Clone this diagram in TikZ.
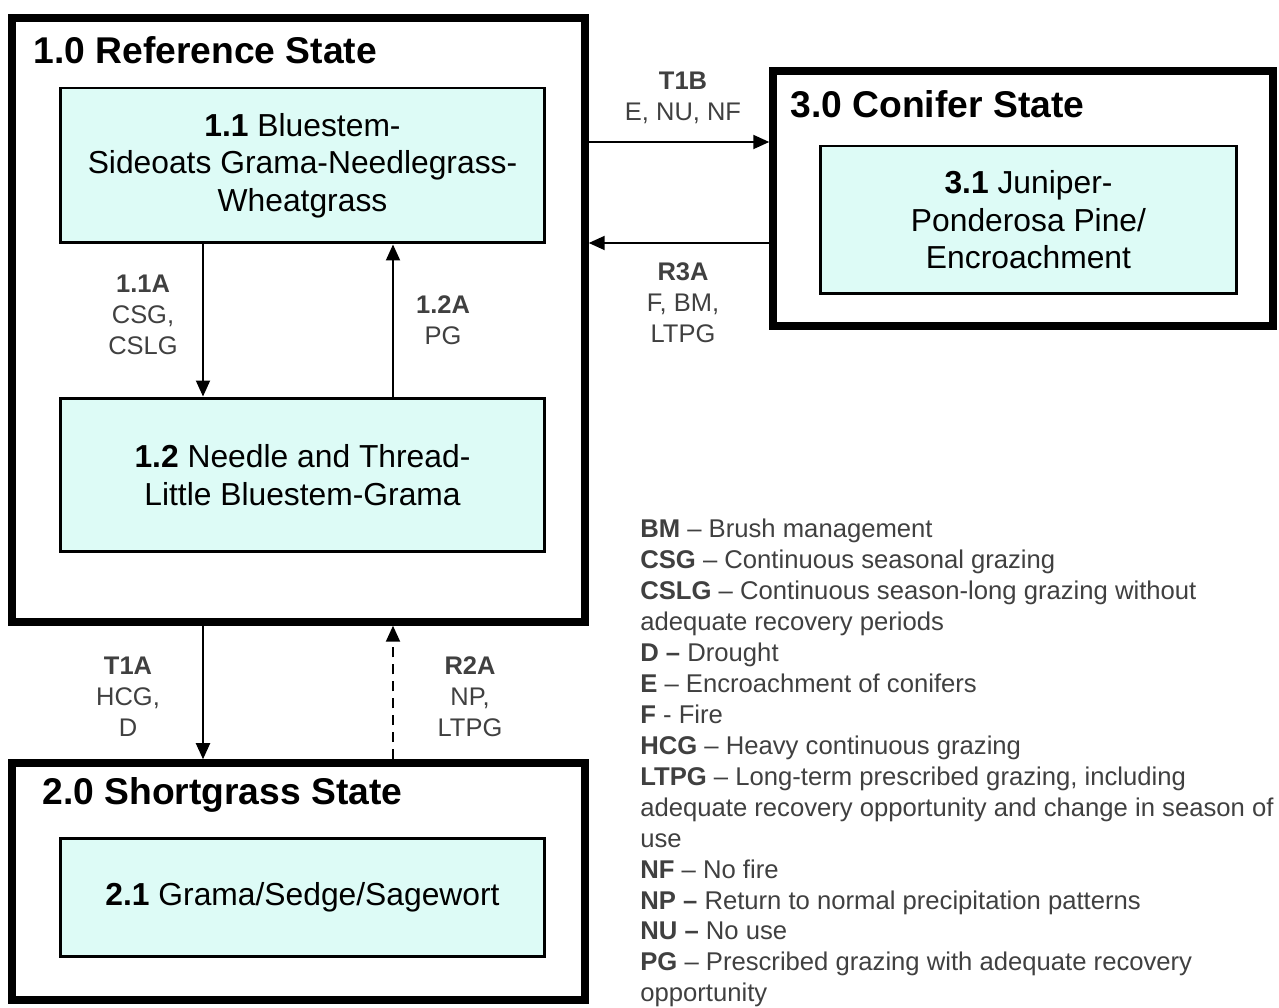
\documentclass[tikz,border=0pt]{standalone}
\usepackage{fontspec}
\setmainfont{Liberation Sans}
\usetikzlibrary{positioning, arrows.meta}

\definecolor{boxfill}{RGB}{221,251,246}
\colorlet{labeltext}{black!75}

\tikzset{
  statebox/.style={draw=black, line width=4.3pt, inner sep=0pt},
  statetitle/.style={anchor=west, inner sep=0pt, font=\bfseries\fontsize{21.2}{25}\selectfont},
  phasebox/.style={draw=black, line width=1.7pt, fill=boxfill, align=center, font=\fontsize{18.1}{21.3}\selectfont},
  flow/.style={-{Triangle[length=0.32cm, width=0.28cm]}, line width=1.1pt},
  translabel/.style={align=center, text=labeltext, font=\fontsize{14.5}{17.6}\selectfont},
}

\begin{document}
\begin{tikzpicture}[x=0.02cm, y=0.02cm]
  \useasboundingbox (0,0) rectangle (1279,1008);

  % states
  \node[statebox, minimum width=11.46cm, minimum height=12.08cm] (s1) at (298.5, 688) {};
  \node[statetitle] (t1) at (33, 958) {1.0 Reference State};
  \node[statebox, minimum width=10cm, minimum height=5.1cm] (s3) at (1023, 809.5) {};
  \node[statetitle] (t3) at (790, 904) {3.0 Conifer State};
  \node[statebox, minimum width=11.46cm, minimum height=4.74cm] (s2) at (298.5, 126.5) {};
  \node[statetitle] (t2) at (42, 213) {2.0 Shortgrass State};

  % community phases
  \node[phasebox, minimum width=9.7cm, minimum height=3.1cm] (b11) at (302.5, 842.5) {\textbf{1.1} Bluestem-\\Sideoats Grama-Needlegrass-\\Wheatgrass};
  \node[phasebox, minimum width=9.7cm, minimum height=3.08cm] (b12) at (302.5, 533) {\textbf{1.2} Needle and Thread-\\Little Bluestem-Grama};
  \node[phasebox, minimum width=8.34cm, minimum height=2.96cm] (b31) at (1028.5, 788) {\textbf{3.1} Juniper-\\Ponderosa Pine/\\Encroachment};
  \node[phasebox, minimum width=9.7cm, minimum height=2.38cm] (b21) at (302.5, 110.5) {\textbf{2.1} Grama/Sedge/Sagewort};

  % arrow positions
  \coordinate (xl) at (203, 0);
  \coordinate (xr) at (393, 0);
  \coordinate (yt) at (0, 866);
  \coordinate (yb) at (0, 765);

  \draw[flow] (b11.south -| xl) -- (b12.north -| xl);
  \draw[flow] (b12.north -| xr) -- (b11.south -| xr);
  \draw[flow] (s1.east |- yt) -- (s3.west |- yt);
  \draw[flow] (s3.west |- yb) -- (s1.east |- yb);
  \draw[flow] (s1.south -| xl) -- (s2.north -| xl);
  \draw[flow, dash pattern=on 0.2cm off 0.14cm] (s2.north -| xr) -- (s1.south -| xr);

  % transition labels
  \node[translabel] (l11a) at (143, 693) {\textbf{1.1A}\\CSG,\\CSLG};
  \node[translabel] (l12a) at (443, 688) {\textbf{1.2A}\\PG};
  \node[translabel] (lt1b) at (683, 910.5) {\textbf{T1B}\\E, NU, NF};
  \node[translabel] (lr3a) at (683, 705) {\textbf{R3A}\\F, BM,\\LTPG};
  \node[translabel] (lt1a) at (128, 311) {\textbf{T1A}\\HCG,\\D};
  \node[translabel] (lr2a) at (470, 311) {\textbf{R2A}\\NP,\\LTPG};

  % legend
  \node[anchor=north west, inner sep=0pt, align=left, text=labeltext, font=\fontsize{14.6}{17.6}\selectfont] (legend) at (640, 489) {%
    \textbf{BM} -- Brush management\\
    \textbf{CSG} -- Continuous seasonal grazing\\
    \textbf{CSLG} -- Continuous season-long grazing without\\
    adequate recovery periods\\
    \textbf{D --} Drought\\
    \textbf{E} -- Encroachment of conifers\\
    \textbf{F} - Fire\\
    \textbf{HCG} -- Heavy continuous grazing\\
    \textbf{LTPG} -- Long-term prescribed grazing, including\\
    adequate recovery opportunity and change in season of\\
    use\\
    \textbf{NF} -- No fire\\
    \textbf{NP --} Return to normal precipitation patterns\\
    \textbf{NU --} No use\\
    \textbf{PG} -- Prescribed grazing with adequate recovery\\
    opportunity};
\end{tikzpicture}
\end{document}
